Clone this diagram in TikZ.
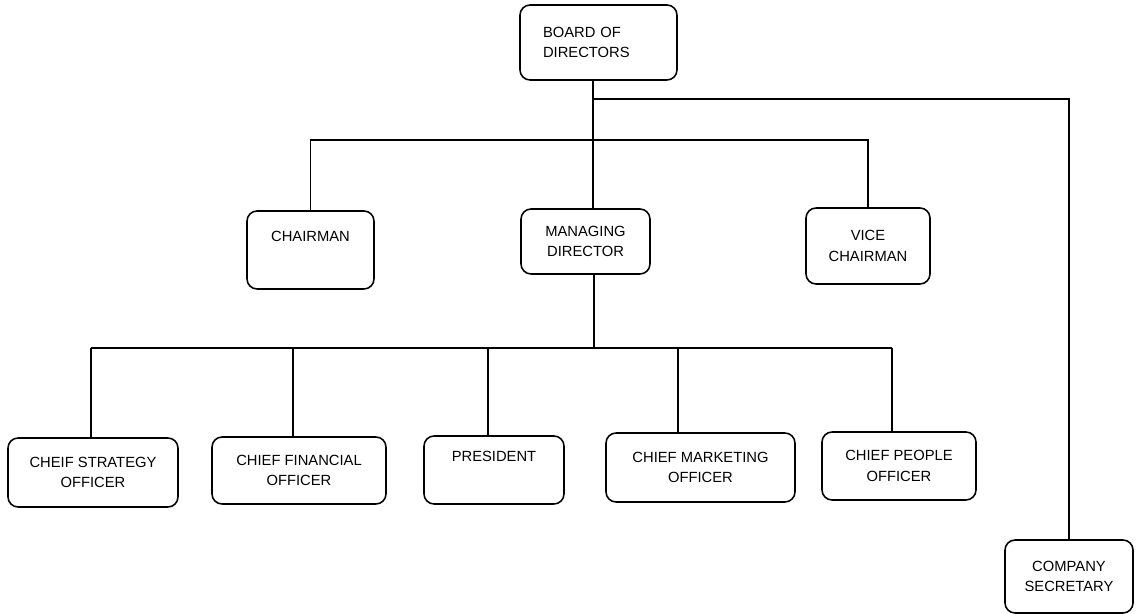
\documentclass[tikz,border=0pt]{standalone}
\usepackage{fontspec}
\setmainfont{Liberation Sans}

\begin{document}
\begin{tikzpicture}[x=0.02cm,y=-0.02cm,
  box/.style={draw,rounded corners=0.2cm,line width=0.9pt,align=center,inner sep=0pt,
    font=\fontsize{8.4}{11.7}\selectfont},
  wire/.style={line width=0.9pt},
]
\useasboundingbox (0,0) rectangle (1136,614);
% ---------- board ----------
\node[box,minimum width=3.14cm,minimum height=1.5cm,align=left,text width=2.22cm]
  (board) at (598.5,42.5) {BOARD OF\\DIRECTORS};
% ---------- second row ----------
\node[box,minimum width=2.54cm,minimum height=1.56cm] (chair) at (310.5,250) {CHAIRMAN\\ \strut};
\node[box,minimum width=2.58cm,minimum height=1.3cm]  (md)    at (585.5,241.5) {MANAGING\\DIRECTOR};
\node[box,minimum width=2.48cm,minimum height=1.52cm] (vc)    at (868,246) {VICE\\CHAIRMAN};
% ---------- officers ----------
\node[box,minimum width=3.4cm,minimum height=1.38cm]  (cso)  at (93,472.5) {CHEIF STRATEGY\\OFFICER};
\node[box,minimum width=3.48cm,minimum height=1.34cm] (cfo)  at (299,470.5) {CHIEF FINANCIAL\\OFFICER};
\node[box,minimum width=2.8cm,minimum height=1.36cm]  (pres) at (494,470) {PRESIDENT\\ \strut};
\node[box,minimum width=3.78cm,minimum height=1.38cm] (cmo)  at (700.5,467.5) {CHIEF MARKETING\\OFFICER};
\node[box,minimum width=3.08cm,minimum height=1.36cm] (cpo)  at (899,466) {CHIEF PEOPLE\\OFFICER};
% ---------- secretary ----------
\node[box,minimum width=2.56cm,minimum height=1.46cm] (sec)  at (1069,576.5) {COMPANY\\SECRETARY};
% ---------- wires ----------
\coordinate (j1) at (593,99);
\coordinate (j2) at (593,140);
\coordinate (j3) at (594,348);
\draw[wire] (board.south -| j1) -- (md.north -| j1);
\draw[wire] (j1) -| (sec.north);
\draw[wire] (chair.north) |- (j2) -| (vc.north);
\draw[wire] (md.south -| j3) -- (j3);
\foreach \n/\x in {cso/91,cfo/293,pres/488,cmo/678,cpo/892}{
  \coordinate (\n-top) at (\x,348);
  \draw[wire] (\n-top) -- (\n-top |- \n.north);
}
\draw[wire] (cso-top) -- (cpo-top);
\end{tikzpicture}
\end{document}
